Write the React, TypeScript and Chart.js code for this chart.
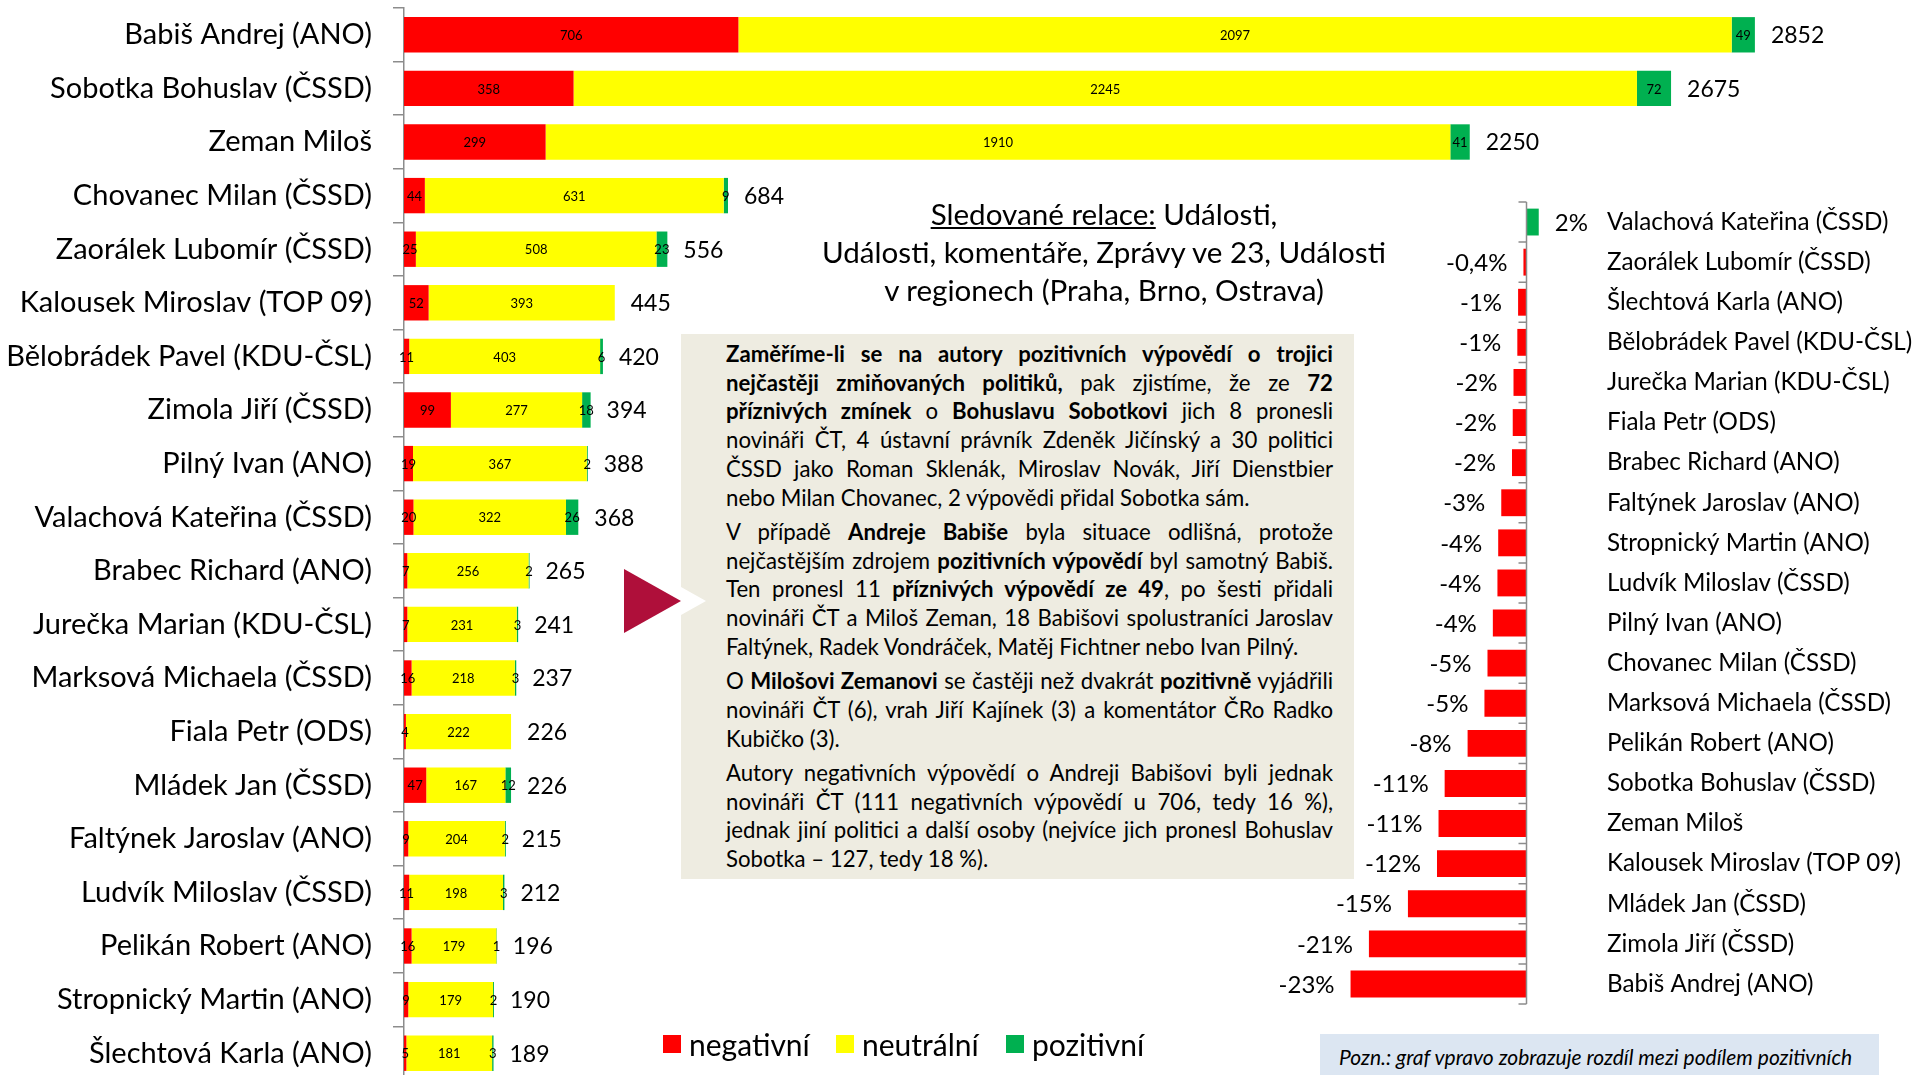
import React, { useEffect, useRef } from 'react';
import { Chart, registerables } from 'chart.js';

Chart.register(...registerables);

const FONT = 'Lato, "Open Sans", sans-serif';

// ---------- left chart data ----------
const candidates = [
  'Babiš Andrej (ANO)',
  'Sobotka Bohuslav (ČSSD)',
  'Zeman Miloš',
  'Chovanec Milan (ČSSD)',
  'Zaorálek Lubomír (ČSSD)',
  'Kalousek Miroslav (TOP 09)',
  'Bělobrádek Pavel (KDU-ČSL)',
  'Zimola Jiří (ČSSD)',
  'Pilný Ivan (ANO)',
  'Valachová Kateřina (ČSSD)',
  'Brabec Richard (ANO)',
  'Jurečka Marian (KDU-ČSL)',
  'Marksová Michaela (ČSSD)',
  'Fiala Petr (ODS)',
  'Mládek Jan (ČSSD)',
  'Faltýnek Jaroslav (ANO)',
  'Ludvík Miloslav (ČSSD)',
  'Pelikán Robert (ANO)',
  'Stropnický Martin (ANO)',
  'Šlechtová Karla (ANO)',
];
const negative = [706, 358, 299, 44, 25, 52, 11, 99, 19, 20, 7, 7, 16, 4, 47, 9, 11, 16, 9, 5];
const neutral = [2097, 2245, 1910, 631, 508, 393, 403, 277, 367, 322, 256, 231, 218, 222, 167, 204, 198, 179, 179, 181];
const positive = [49, 72, 41, 9, 23, 0, 6, 18, 2, 26, 2, 3, 3, 0, 12, 2, 3, 1, 2, 3];
const totals = [2852, 2675, 2250, 684, 556, 445, 420, 394, 388, 368, 265, 241, 237, 226, 226, 215, 212, 196, 190, 189];
const seriesNames = ['negativní', 'neutrální', 'pozitivní'];
const seriesColors = ['#FF0000', '#FFFF00', '#00B050'];

// ---------- right chart data ----------
const diffNames = [
  'Valachová Kateřina (ČSSD)',
  'Zaorálek Lubomír (ČSSD)',
  'Šlechtová Karla (ANO)',
  'Bělobrádek Pavel (KDU-ČSL)',
  'Jurečka Marian (KDU-ČSL)',
  'Fiala Petr (ODS)',
  'Brabec Richard (ANO)',
  'Faltýnek Jaroslav (ANO)',
  'Stropnický Martin (ANO)',
  'Ludvík Miloslav (ČSSD)',
  'Pilný Ivan (ANO)',
  'Chovanec Milan (ČSSD)',
  'Marksová Michaela (ČSSD)',
  'Pelikán Robert (ANO)',
  'Sobotka Bohuslav (ČSSD)',
  'Zeman Miloš',
  'Kalousek Miroslav (TOP 09)',
  'Mládek Jan (ČSSD)',
  'Zimola Jiří (ČSSD)',
  'Babiš Andrej (ANO)',
];
const diffValues = [1.6, -0.4, -1.1, -1.2, -1.7, -1.8, -1.9, -3.3, -3.7, -3.8, -4.4, -5.1, -5.5, -7.7, -10.7, -11.5, -11.7, -15.5, -20.6, -23.0];
const diffLabels = ['2%', '-0,4%', '-1%', '-1%', '-2%', '-2%', '-2%', '-3%', '-4%', '-4%', '-4%', '-5%', '-5%', '-8%', '-11%', '-11%', '-12%', '-15%', '-21%', '-23%'];

const AXIS_GREY = '#8C8C8C';

const stackLabelPlugin = {
  id: 'stackLabels',
  afterDatasetsDraw(chart: any) {
    const { ctx } = chart;
    ctx.save();
    ctx.fillStyle = '#000';
    ctx.textBaseline = 'middle';
    ctx.textAlign = 'center';
    ctx.font = `13px ${FONT}`;
    chart.data.datasets.forEach((ds: any, di: number) => {
      const meta = chart.getDatasetMeta(di);
      meta.data.forEach((el: any, i: number) => {
        const v = ds.data[i];
        if (!v) return;
        ctx.fillText(String(v), (el.x + el.base) / 2, el.y + 1);
      });
    });
    const xs = chart.scales.x;
    const meta0 = chart.getDatasetMeta(0);
    ctx.textAlign = 'left';
    ctx.font = `23px ${FONT}`;
    totals.forEach((t, i) => {
      ctx.fillText(String(t), xs.getPixelForValue(t) + 16, meta0.data[i].y + 1);
    });
    ctx.restore();
  },
};

const diffPlugin = {
  id: 'diffDecor',
  afterDatasetsDraw(chart: any) {
    const { ctx, chartArea } = chart;
    const xs = chart.scales.x;
    const ys = chart.scales.y;
    const x0 = xs.getPixelForValue(0);
    ctx.save();
    ctx.strokeStyle = AXIS_GREY;
    ctx.lineWidth = 1.5;
    ctx.beginPath();
    ctx.moveTo(x0, chartArea.top);
    ctx.lineTo(x0, chartArea.bottom);
    for (let i = 0; i <= diffNames.length; i++) {
      const y = ys.getPixelForValue(i - 0.5);
      ctx.moveTo(x0 - 8, y);
      ctx.lineTo(x0, y);
    }
    ctx.stroke();
    ctx.font = `24px ${FONT}`;
    ctx.fillStyle = '#000';
    ctx.textBaseline = 'middle';
    const meta = chart.getDatasetMeta(0);
    meta.data.forEach((el: any, i: number) => {
      const v = diffValues[i];
      if (v < 0) {
        ctx.textAlign = 'right';
        ctx.fillText(diffLabels[i], el.x - 16, el.y + 1);
      } else {
        ctx.textAlign = 'left';
        ctx.fillText(diffLabels[i], el.x + 16, el.y + 1);
      }
    });
    ctx.restore();
  },
};

function LeftChart() {
  const ref = useRef<HTMLCanvasElement>(null);
  useEffect(() => {
    const chart = new Chart(ref.current as HTMLCanvasElement, {
      type: 'bar',
      data: {
        labels: candidates,
        datasets: [
          { label: seriesNames[0], data: negative, backgroundColor: seriesColors[0] },
          { label: seriesNames[1], data: neutral, backgroundColor: seriesColors[1] },
          { label: seriesNames[2], data: positive, backgroundColor: seriesColors[2] },
        ],
      },
      options: {
        indexAxis: 'y',
        responsive: false,
        animation: false,
        layout: { padding: { top: 8, right: 98, bottom: 10, left: 0 } },
        datasets: { bar: { barPercentage: 0.66, categoryPercentage: 1 } },
        scales: {
          x: { stacked: true, display: false, min: 0, max: 3000 },
          y: {
            stacked: true,
            grid: {
              display: true,
              drawOnChartArea: false,
              drawTicks: true,
              tickLength: 11,
              offset: true,
              color: AXIS_GREY,
              lineWidth: 1.5,
            },
            border: { display: true, color: AXIS_GREY, width: 1.5 },
            ticks: { padding: 21, color: '#000', autoSkip: false, font: { family: FONT, size: 29 } },
            afterFit: (s: any) => {
              s.width = 404;
              s.paddingTop = 0;
              s.paddingBottom = 0;
            },
          },
        },
        plugins: { legend: { display: false }, tooltip: { enabled: false } },
      } as any,
      plugins: [stackLabelPlugin],
    });
    return () => chart.destroy();
  }, []);
  return (
    <canvas
      ref={ref}
      width={1923}
      height={1090}
      style={{ position: 'absolute', left: 0, top: 0, width: 1923, height: 1090 }}
    />
  );
}

function RightChart() {
  const ref = useRef<HTMLCanvasElement>(null);
  useEffect(() => {
    const chart = new Chart(ref.current as HTMLCanvasElement, {
      type: 'bar',
      data: {
        labels: diffNames,
        datasets: [
          {
            label: 'rozdíl',
            data: diffValues,
            backgroundColor: diffValues.map((v) => (v >= 0 ? seriesColors[2] : seriesColors[0])),
          },
        ],
      },
      options: {
        indexAxis: 'y',
        responsive: false,
        animation: false,
        layout: { padding: { top: 10, bottom: 10, left: 20, right: 0 } },
        datasets: { bar: { barPercentage: 0.67, categoryPercentage: 1 } },
        scales: {
          x: { display: false, min: -33.53, max: 8.3 },
          y: {
            position: 'right',
            grid: { display: false },
            border: { display: false },
            ticks: { padding: 9, color: '#000', autoSkip: false, font: { family: FONT, size: 24.2 } },
            afterFit: (s: any) => {
              s.width = 333;
              s.paddingTop = 0;
              s.paddingBottom = 0;
            },
          },
        },
        plugins: { legend: { display: false }, tooltip: { enabled: false } },
      } as any,
      plugins: [diffPlugin],
    });
    return () => chart.destroy();
  }, []);
  return (
    <canvas
      ref={ref}
      width={673}
      height={822}
      style={{ position: 'absolute', left: 1250, top: 192, width: 673, height: 822 }}
    />
  );
}

function Line({ children, last }: { children: any; last?: boolean }) {
  return (
    <div style={{ textAlign: 'justify', textAlignLast: last ? 'left' : 'justify' } as any}>{children}</div>
  );
}

export default function App() {
  return (
    <div
      style={{
        position: 'fixed',
        left: 0,
        top: 0,
        width: 1923,
        height: 1075,
        overflow: 'hidden',
        background: '#fff',
        fontFamily: FONT,
        color: '#000',
      }}
    >
      <LeftChart />
      <RightChart />

      {/* title */}
      <div
        style={{
          position: 'absolute',
          left: 754,
          top: 195,
          width: 700,
          textAlign: 'center',
          fontSize: 29.6,
          lineHeight: '38px',
        }}
      >
        <span style={{ textDecoration: 'underline' }}>Sledované relace:</span> Události,
        <br />
        Události, komentáře, Zprávy ve 23, Události
        <br />v regionech (Praha, Brno, Ostrava)
      </div>

      {/* text box */}
      <div style={{ position: 'absolute', left: 681, top: 334, width: 673, height: 545, background: '#EEECE1' }} />
      <div
        style={{
          position: 'absolute',
          left: 681,
          top: 587,
          width: 0,
          height: 0,
          borderTop: '14.5px solid transparent',
          borderBottom: '14.5px solid transparent',
          borderLeft: '25px solid #fff',
        }}
      />
      <div
        style={{
          position: 'absolute',
          left: 624,
          top: 569,
          width: 0,
          height: 0,
          borderTop: '32px solid transparent',
          borderBottom: '32px solid transparent',
          borderLeft: '57px solid #AF0F3A',
        }}
      />
      <div
        style={{
          position: 'absolute',
          left: 726,
          top: 340,
          width: 607,
          fontSize: 22.2,
          lineHeight: '28.7px',
        }}
      >
        <div style={{ marginBottom: 5.7 }}>
          <Line>
            <b>Zaměříme-li se na autory pozitivních výpovědí o trojici</b>
          </Line>
          <Line>
            <b>nejčastěji zmiňovaných politiků,</b> pak zjistíme, že ze <b>72</b>
          </Line>
          <Line>
            <b>příznivých zmínek</b> o <b>Bohuslavu Sobotkovi</b> jich 8 pronesli
          </Line>
          <Line>novináři ČT, 4 ústavní právník Zdeněk Jičínský a 30 politici</Line>
          <Line>ČSSD jako Roman Sklenák, Miroslav Novák, Jiří Dienstbier</Line>
          <Line last>nebo Milan Chovanec, 2 výpovědi přidal Sobotka sám.</Line>
        </div>
        <div style={{ marginBottom: 5.7 }}>
          <Line>
            V případě <b>Andreje Babiše</b> byla situace odlišná, protože
          </Line>
          <Line>
            nejčastějším zdrojem <b>pozitivních výpovědí</b> byl samotný Babiš.
          </Line>
          <Line>
            Ten pronesl 11 <b>příznivých výpovědí ze 49</b>, po šesti přidali
          </Line>
          <Line>novináři ČT a Miloš Zeman, 18 Babišovi spolustraníci Jaroslav</Line>
          <Line last>Faltýnek, Radek Vondráček, Matěj Fichtner nebo Ivan Pilný.</Line>
        </div>
        <div style={{ marginBottom: 5.7 }}>
          <Line>
            O <b>Milošovi Zemanovi</b> se častěji než dvakrát <b>pozitivně</b> vyjádřili
          </Line>
          <Line>novináři ČT (6), vrah Jiří Kajínek (3) a komentátor ČRo Radko</Line>
          <Line last>Kubičko (3).</Line>
        </div>
        <div>
          <Line>Autory negativních výpovědí o Andreji Babišovi byli jednak</Line>
          <Line>novináři ČT (111 negativních výpovědí u 706, tedy 16 %),</Line>
          <Line>jednak jiní politici a další osoby (nejvíce jich pronesl Bohuslav</Line>
          <Line last>Sobotka – 127, tedy 18 %).</Line>
        </div>
      </div>

      {/* legend */}
      {seriesNames.map((name, i) => (
        <div
          key={name}
          style={{
            position: 'absolute',
            left: [663, 836, 1006][i],
            top: 1026,
            height: 36,
            display: 'flex',
            alignItems: 'center',
            fontSize: 30,
            whiteSpace: 'nowrap',
          }}
        >
          <span style={{ display: 'inline-block', width: 18, height: 18, background: seriesColors[i], marginRight: 8 }} />
          {name}
        </div>
      ))}

      {/* note */}
      <div style={{ position: 'absolute', left: 1320, top: 1034, width: 559, height: 60, background: '#DCE6F2' }}>
        <div
          style={{
            position: 'absolute',
            left: 19,
            top: 10,
            fontSize: 21,
            fontStyle: 'italic',
            whiteSpace: 'nowrap',
            lineHeight: '25px',
          }}
        >
          Pozn.: graf vpravo zobrazuje rozdíl mezi podílem pozitivních
        </div>
      </div>
    </div>
  );
}
